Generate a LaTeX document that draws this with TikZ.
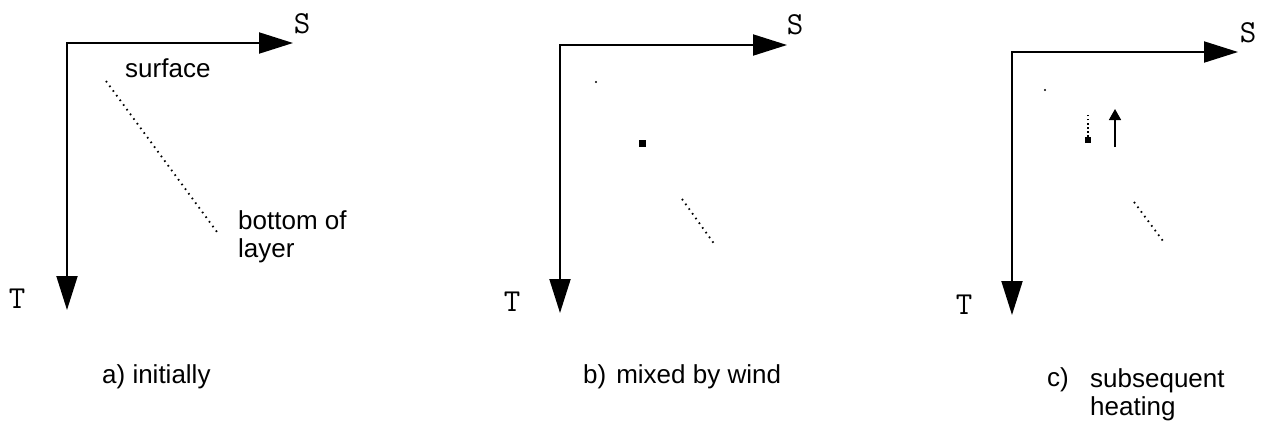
\documentclass[tikz,border=0pt]{standalone}
\usepackage{fontspec}
\setmainfont{Liberation Sans}
\usetikzlibrary{arrows.meta}
\tikzset{
  axis/.style   ={line width=2pt,
                  {Triangle[length=34pt,width=21pt]}-{Triangle[length=34pt,width=21pt]}},
  axlbl/.style  ={inner sep=0pt, font=\ttfamily\fontsize{32}{32}\selectfont},
  lbl/.style    ={inner sep=0pt, align=left, font=\fontsize{26}{28}\selectfont},
  dots/.style   ={line width=1.8pt, dash pattern=on 1.6pt off 4.2pt},
  parcel/.style ={rectangle, fill=black, inner sep=0pt, minimum size=7pt},
  speck/.style  ={circle, fill=black, inner sep=0pt, minimum size=2.2pt},
  rise/.style   ={line width=1.6pt, -{Triangle[length=11pt,width=12pt]}}
}
\begin{document}
\begin{tikzpicture}[x=1pt, y=-1pt]
    \useasboundingbox (0,0) rectangle (1263,432);
    % a) initially
    \coordinate (oa) at (67,43);
    \coordinate (sa) at (293,43);
    \coordinate (ta) at (67,310);
    \draw[axis] (sa) -- (oa) -- (ta);
    \node[axlbl] (Sa) at (302,24) {S};
    \node[axlbl] (Ta) at (17,299) {T};
    \node[lbl, anchor=base west] (surf) at (125,77) {surface};
    \node[lbl, anchor=north west] (bot) at (238,210) {bottom of\\layer};
    \coordinate (topa) at (106,81);
    \coordinate (bota) at (217,232);
    \draw[dots] (topa) -- (bota);
    \node[lbl, anchor=base west] (capa) at (102,383) {a) initially};
    % b) mixed by wind
    \coordinate (ob) at (560,45);
    \coordinate (sb) at (787,45);
    \coordinate (tb) at (560,313);
    \draw[axis] (sb) -- (ob) -- (tb);
    \node[axlbl] (Sb) at (795,25) {S};
    \node[axlbl] (Tb) at (512,302) {T};
    \node[speck] (dotb) at (596,82) {};
    \node[parcel] (mixb) at (642,143) {};
    \coordinate (topb) at (682,199);
    \coordinate (botb) at (715,245);
    \draw[dots] (topb) -- (botb);
    \node[lbl, anchor=base west] (capb) at (583,383) {b)\hspace{10pt}mixed by wind};
    % c) subsequent heating
    \coordinate (oc) at (1012,52);
    \coordinate (sc) at (1238,52);
    \coordinate (tc) at (1012,315);
    \draw[axis] (sc) -- (oc) -- (tc);
    \node[axlbl] (Sc) at (1248,33) {S};
    \node[axlbl] (Tc) at (964,305) {T};
    \node[speck] (dotc) at (1045,90) {};
    \node[parcel, minimum size=6pt] (mixc) at (1088,140) {};
    \coordinate (trail) at (1088,113);
    \draw[dots, dash pattern=on 1.5pt off 2.6pt] (mixc) -- (trail);
    \coordinate (risefoot) at (1115,147);
    \coordinate (risetip) at (1115,109);
    \draw[rise] (risefoot) -- (risetip);
    \coordinate (topc) at (1134,202);
    \coordinate (botc) at (1163,241);
    \draw[dots] (topc) -- (botc);
    \node[lbl, anchor=base west] (capc) at (1047,386) {c)};
    \node[lbl, anchor=north west] (heat) at (1090,368) {subsequent\\heating};
\end{tikzpicture}
\end{document}
